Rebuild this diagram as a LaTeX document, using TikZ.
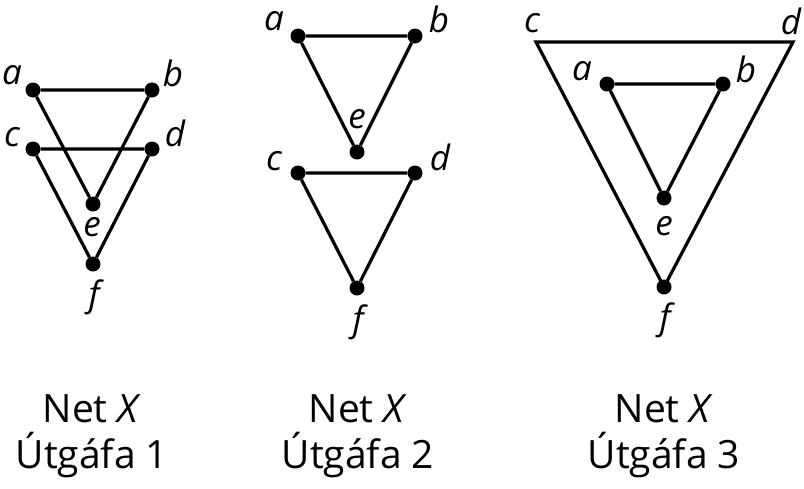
\documentclass[tikz,border=0pt]{standalone}
\usepackage{fontspec}
\setmainfont{Open Sans}
\begin{document}
\begin{tikzpicture}[x=1pt,y=-1pt,
  vdot/.style={circle,fill=black,inner sep=0pt,minimum size=15pt},
  link/.style={line width=3.2pt,line join=miter},
  lbl/.style={font=\fontsize{35}{40}\selectfont\itshape,inner sep=0pt},
  captext/.style={font=\fontsize{39}{46}\selectfont,align=center,inner sep=0pt}]
\useasboundingbox (0,0) rectangle (804,488);
% Panel 1
\node[vdot] (a1) at (33,90) {};
\node[vdot] (b1) at (152,90) {};
\node[vdot] (c1) at (33,149) {};
\node[vdot] (d1) at (152,149) {};
\node[vdot] (e1) at (93,204) {};
\node[vdot] (f1) at (93,264) {};
\draw[link] (a1) -- (b1) (a1) -- (e1) (b1) -- (e1);
\draw[link] (c1) -- (d1) (c1) -- (f1) (d1) -- (f1);
\node[lbl] (la1) at (12,75) {a};
\node[lbl] (lb1) at (173,73) {b};
\node[lbl] (lc1) at (12,137) {c};
\node[lbl] (ld1) at (175,133) {d};
\node[lbl] (le1) at (92,227) {e};
\node[lbl] (lf1) at (94,297) {f};
% Panel 2
\node[vdot] (a2) at (298,36) {};
\node[vdot] (b2) at (415,36) {};
\node[vdot] (e2) at (357,152) {};
\node[vdot] (c2) at (298,173) {};
\node[vdot] (d2) at (415,173) {};
\node[vdot] (f2) at (357,288) {};
\draw[link] (a2) -- (b2) (a2) -- (e2) (b2) -- (e2);
\draw[link] (c2) -- (d2) (c2) -- (f2) (d2) -- (f2);
\node[lbl] (la2) at (274,21) {a};
\node[lbl] (lb2) at (439,19) {b};
\node[lbl] (le2) at (357,119) {e};
\node[lbl] (lc2) at (274,161) {c};
\node[lbl] (ld2) at (440,157) {d};
\node[lbl] (lf2) at (358,322) {f};
% Panel 3
\coordinate (c3) at (536,42);
\coordinate (d3) at (793,42);
\node[vdot] (f3) at (664,287) {};
\node[vdot] (a3) at (607,84) {};
\node[vdot] (b3) at (723,84) {};
\node[vdot] (e3) at (664,198) {};
\draw[link] (c3) -- (d3) -- (f3.center) -- cycle;
\draw[link] (a3) -- (b3) (a3) -- (e3) (b3) -- (e3);
\node[lbl] (lc3) at (532,23) {c};
\node[lbl] (ld3) at (791,21) {d};
\node[lbl] (la3) at (582,71) {a};
\node[lbl] (lb3) at (746,69) {b};
\node[lbl] (le3) at (664,226) {e};
\node[lbl] (lf3) at (665,320) {f};
% Captions
\node[captext] (t1) at (92,436) {Net \textit{X}\\Útgáfa 1};
\node[captext] (t2) at (358,436) {Net \textit{X}\\Útgáfa 2};
\node[captext] (t3) at (664,436) {Net \textit{X}\\Útgáfa 3};
\end{tikzpicture}
\end{document}
